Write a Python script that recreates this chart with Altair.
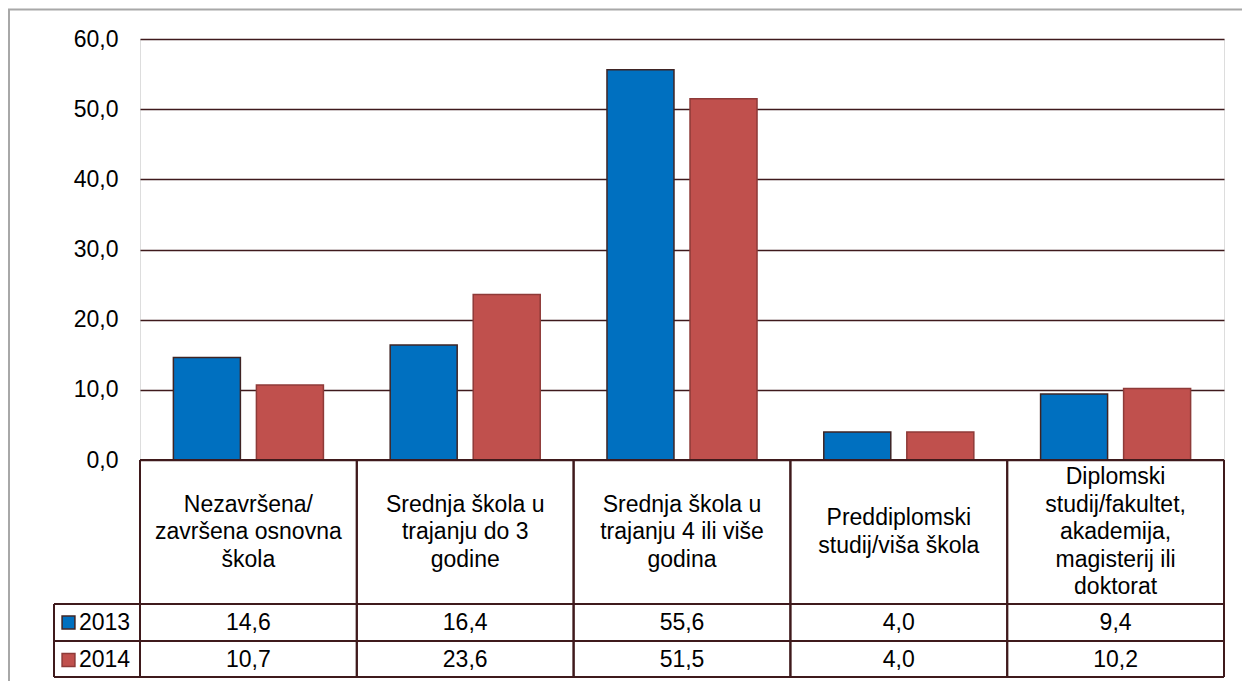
import altair as alt
import pandas as pd

# ---- data ----
categories = [
    "Nezavršena/\nzavršena osnovna\nškola",
    "Srednja škola u\ntrajanju do 3\ngodine",
    "Srednja škola u\ntrajanju 4 ili više\ngodina",
    "Preddiplomski\nstudij/viša škola",
    "Diplomski\nstudij/fakultet,\nakademija,\nmagisterij ili\ndoktorat",
]
years = ["2013", "2014"]
values_2013 = [14.6, 16.4, 55.6, 4.0, 9.4]
values_2014 = [10.7, 23.6, 51.5, 4.0, 10.2]
y_ticks = [0, 10, 20, 30, 40, 50, 60]

# ---- styles ----
FILLS = ["#0070C0", "#C0504D"]
STROKES = ["#3f2424", "#8e3a38"]
LINE = "#3f1a1c"
FONT = "Liberation Sans"
FS = 23
LH = 27.5

W, H = 1084, 421
HEADER_BOTTOM = 565
ROW1_BOTTOM = 602
ROW2_BOTTOM = 638
LEG_LEFT = -86

rows = []
for c, a, b in zip(categories, values_2013, values_2014):
    rows.append({"cat": c, "year": "2013", "value": a})
    rows.append({"cat": c, "year": "2014", "value": b})
df = pd.DataFrame(rows)
df["label"] = df["value"].map(lambda v: f"{v:.1f}".replace(".", ","))
cat_df = pd.DataFrame({"cat": categories})
cat_df["nlines"] = cat_df["cat"].map(lambda s: s.count("\n") + 1)
leg_df = pd.DataFrame({"year": years})
one = pd.DataFrame({"a": [0]})

xscale = alt.Scale(domain=categories, paddingInner=0, paddingOuter=0)
x = alt.X("cat:N", sort=categories, scale=xscale, axis=None)
fill_scale = alt.Scale(domain=years, range=FILLS)
stroke_scale = alt.Scale(domain=years, range=STROKES)

border = alt.Chart(one).mark_rect(fillOpacity=0, stroke="#a8a8a8", strokeWidth=2).encode(
    x=alt.value(-131), x2=alt.value(W + 200), y=alt.value(-29.5), y2=alt.value(H + 400)
)

bars = alt.Chart(df).mark_bar(strokeWidth=1.5).encode(
    x=x,
    xOffset=alt.XOffset("year:N", sort=years,
                        scale=alt.Scale(paddingInner=0.193, paddingOuter=0.402)),
    y=alt.Y("value:Q", scale=alt.Scale(domain=[0, 60], nice=False),
            axis=alt.Axis(values=y_ticks, format=".1f",
                          labelExpr="replace(datum.label, '.', ',')",
                          grid=True, gridColor=LINE, gridWidth=1.6,
                          ticks=False, domain=False, labelPadding=22,
                          labelFontSize=FS, labelFont=FONT, labelColor="#000000",
                          title=None)),
    fill=alt.Fill("year:N", scale=fill_scale, legend=None),
    stroke=alt.Stroke("year:N", scale=stroke_scale, legend=None),
)

layers = [border, bars]

header_center = (H + HEADER_BOTTOM) / 2
for n in sorted(cat_df["nlines"].unique()):
    layers.append(
        alt.Chart(cat_df).transform_filter(alt.datum.nlines == int(n)).mark_text(
            lineBreak="\n", lineHeight=LH, fontSize=FS, font=FONT, color="#000000",
            baseline="middle", align="center", dy=-(int(n) - 1) / 2 * LH
        ).encode(x=x, y=alt.value(header_center), text="cat:N")
    )

row_centers = {"2013": (HEADER_BOTTOM + ROW1_BOTTOM) / 2, "2014": (ROW1_BOTTOM + ROW2_BOTTOM) / 2 + 1}

for yr in years:
    layers.append(
        alt.Chart(df).transform_filter(alt.datum.year == yr).mark_text(
            fontSize=FS, font=FONT, color="#000000", baseline="middle", align="center"
        ).encode(x=x, y=alt.value(row_centers[yr]), text="label:N")
    )
    layers.append(
        alt.Chart(leg_df).transform_filter(alt.datum.year == yr).mark_square(
            size=165, opacity=1, strokeWidth=1.5
        ).encode(x=alt.value(-71.5), y=alt.value(row_centers[yr]),
                 fill=alt.Fill("year:N", scale=fill_scale, legend=None),
                 stroke=alt.Stroke("year:N", scale=stroke_scale, legend=None))
    )
    layers.append(
        alt.Chart(leg_df).transform_filter(alt.datum.year == yr).mark_text(
            fontSize=FS, font=FONT, color="#000000", baseline="middle", align="left"
        ).encode(x=alt.value(-61), y=alt.value(row_centers[yr]), text="year:N")
    )

# table lines
for yy in [HEADER_BOTTOM, ROW1_BOTTOM, ROW2_BOTTOM]:
    layers.append(
        alt.Chart(one).mark_rule(color=LINE, strokeWidth=2).encode(
            x=alt.value(LEG_LEFT), x2=alt.value(W), y=alt.value(yy))
    )
layers.append(
    alt.Chart(one).mark_rule(color=LINE, strokeWidth=2).encode(
        x=alt.value(LEG_LEFT), y=alt.value(HEADER_BOTTOM), y2=alt.value(ROW2_BOTTOM))
)
layers.append(
    alt.Chart(one).mark_rule(color=LINE, strokeWidth=2).encode(
        x=alt.value(0), x2=alt.value(W), y=alt.value(H))
)
for bp in [0, 1]:
    layers.append(
        alt.Chart(cat_df).mark_rule(color=LINE, strokeWidth=2).encode(
            x=alt.X("cat:N", sort=categories, scale=xscale, axis=None, bandPosition=bp),
            y=alt.value(H), y2=alt.value(ROW2_BOTTOM))
    )

chart = alt.layer(*layers).properties(
    width=W, height=H,
    autosize=alt.AutoSizeParams(type="none"),
    padding={"left": 132, "top": 31, "right": 18, "bottom": 221},
).configure_view(strokeWidth=0).configure(background="white")

chart.save("out.html", embed_options={"renderer": "svg", "actions": False})
